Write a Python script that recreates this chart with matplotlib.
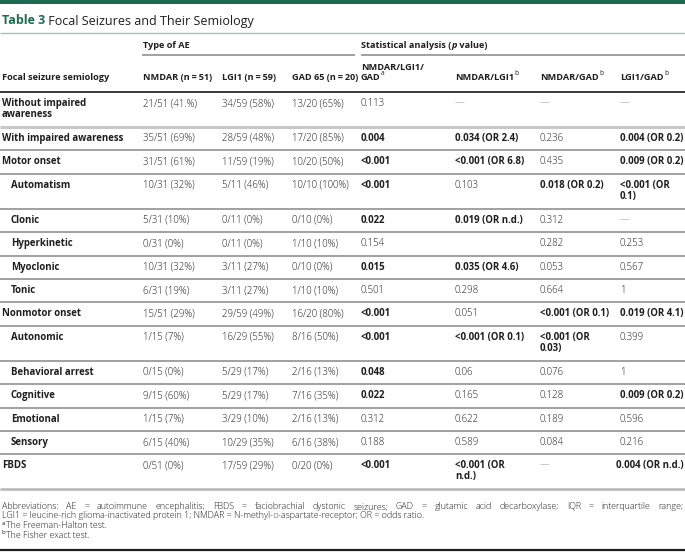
import matplotlib.pyplot as plt

plt.rcParams['font.family'] = ['Open Sans', 'DejaVu Sans']

# table contents
semiology = ["Without impaired\nawareness", "With impaired awareness", "Motor onset",
             "Automatism", "Clonic", "Hyperkinetic", "Myoclonic", "Tonic",
             "Nonmotor onset", "Autonomic", "Behavioral arrest", "Cognitive",
             "Emotional", "Sensory", "FBDS"]
sub_item = [False, False, False, True, True, True, True, True,
            False, True, True, True, True, True, False]
nmdar = ["21/51 (41.%)", "35/51 (69%)", "31/51 (61%)", "10/31 (32%)", "5/31 (10%)",
         "0/31 (0%)", "10/31 (32%)", "6/31 (19%)", "15/51 (29%)", "1/15 (7%)",
         "0/15 (0%)", "9/15 (60%)", "1/15 (7%)", "6/15 (40%)", "0/51 (0%)"]
lgi1 = ["34/59 (58%)", "28/59 (48%)", "11/59 (19%)", "5/11 (46%)", "0/11 (0%)",
        "0/11 (0%)", "3/11 (27%)", "3/11 (27%)", "29/59 (49%)", "16/29 (55%)",
        "5/29 (17%)", "5/29 (17%)", "3/29 (10%)", "10/29 (35%)", "17/59 (29%)"]
gad65 = ["13/20 (65%)", "17/20 (85%)", "10/20 (50%)", "10/10 (100%)", "0/10 (0%)",
         "1/10 (10%)", "0/10 (0%)", "1/10 (10%)", "16/20 (80%)", "8/16 (50%)",
         "2/16 (13%)", "7/16 (35%)", "2/16 (13%)", "6/16 (38%)", "0/20 (0%)"]
p_all = ["0.113", "0.004", "<0.001", "<0.001", "0.022", "0.154", "0.015", "0.501",
         "<0.001", "<0.001", "0.048", "0.022", "0.312", "0.188", "<0.001"]
p_nmdar_lgi1 = ["—", "0.034 (OR 2.4)", "<0.001 (OR 6.8)", "0.103", "0.019 (OR n.d.)", "",
                "0.035 (OR 4.6)", "0.298", "0.051", "<0.001 (OR 0.1)", "0.06", "0.165",
                "0.622", "0.589", "<0.001 (OR\nn.d.)"]
p_nmdar_gad = ["—", "0.236", "0.435", "0.018 (OR 0.2)", "0.312", "0.282", "0.053", "0.664",
               "<0.001 (OR 0.1)", "<0.001 (OR\n0.03)", "0.076", "0.128", "0.189", "0.084", "—"]
p_lgi1_gad = ["—", "0.004 (OR 0.2)", "0.009 (OR 0.2)", "<0.001 (OR\n0.1)", "—", "0.253",
              "0.567", "1", "0.019 (OR 4.1)", "0.399", "1", "0.009 (OR 0.2)", "0.596",
              "0.216", "0.004 (OR n.d.)"]

headers = ["Focal seizure semiology", "NMDAR (n\u2009=\u200951)", "LGI1 (n\u2009=\u200959)",
           "GAD 65 (n\u2009=\u200920)", "NMDAR/LGI1/\nGAD", "NMDAR/LGI1", "NMDAR/GAD", "LGI1/GAD"]
header_notes = ["", "", "", "", "a", "b", "b", "b"]

GREEN = "#1c6b50"
TXT = "#1e1e1e"
FS = 6.9
HFS = 6.6

fig = plt.figure(figsize=(6.85, 5.6), dpi=100)
ax = fig.add_axes([0, 0, 1, 1])
ax.set_xlim(0, 685)
ax.set_ylim(560, 0)
ax.axis("off")


def is_sig(s):
    tok = s.split(" ")[0].replace("<", "")
    try:
        return float(tok) < 0.05
    except ValueError:
        return False


def sup(t, letter, size=4.8):
    ax.annotate(letter, xy=(1, 0.5), xycoords=t, xytext=(0.4, 2.0),
                textcoords="offset points", ha="left", va="baseline",
                fontsize=size, color=TXT)


def hline(y, x0=0, x1=685, color="#9a9a9a", lw=1.3):
    ax.plot([x0, x1], [y, y], color=color, lw=lw, solid_capstyle="butt")


# top band and title
ax.axhspan(0, 4, color=GREEN, lw=0)
t = ax.text(2, 21, "Table 3", fontsize=9, fontweight="bold", color=GREEN,
            va="center", ha="left")
ax.annotate(" Focal Seizures and Their Semiology", xy=(1, 0), xycoords=t,
            va="bottom", ha="left", fontsize=9, color=TXT)
hline(33, color="#9cc7b6", lw=1.0)

# header
ax.text(143, 45, "Type of AE", fontsize=HFS, fontweight="bold", color=TXT, va="center")
t = ax.text(361, 45, "Statistical analysis (", fontsize=HFS, fontweight="bold",
            color=TXT, va="center")
t = ax.annotate("p", xy=(1, 0), xycoords=t, va="bottom", ha="left", fontsize=HFS,
                fontweight="bold", fontstyle="italic", color=TXT)
ax.annotate(" value)", xy=(1, 0), xycoords=t, va="bottom", ha="left", fontsize=HFS,
            fontweight="bold", color=TXT)
hline(55, 142, 355)
hline(55, 361, 685)

col_x = [2, 143, 222, 292, 361, 455, 540, 620]
head_y = 78
for x, lab, note in zip(col_x, headers, header_notes):
    parts = lab.split("\n")
    for k, part in enumerate(parts):
        y = head_y - 11 * (len(parts) - 1 - k)
        t = ax.text(x, y, part, fontsize=HFS, fontweight="bold", color=TXT, va="center")
    if note:
        sup(t, note)
hline(92, color="#3a3a3a", lw=1.4)

# body rows
columns = [nmdar, lgi1, gad65, p_all, p_nmdar_lgi1, p_nmdar_gad, p_lgi1_gad]
top = 92
line_h = 11.6
for i, name in enumerate(semiology):
    cells = [name] + [c[i] for c in columns]
    n_lines = max(s.count("\n") + 1 for s in cells)
    y0 = top + 11.5
    for j, s in enumerate(cells):
        ha = "left"
        if j == 0:
            x = col_x[0] + (9 if sub_item[i] else 0)
            bold = True
        else:
            x = col_x[j]
            bold = j >= 4 and is_sig(s)
        # the last column's long cell runs up to the page edge
        if j == 7 and "\n" not in s and len(s) >= 15:
            x, ha = 684, "right"
        col = "#8a8a8a" if s == "—" else TXT
        for k, part in enumerate(s.split("\n")):
            ax.text(x, y0 + k * 11, part, fontsize=FS, va="center", ha=ha,
                    fontweight="bold" if bold else "light", color=col)
    top = top + 11.8 + line_h * n_lines
    if i == len(semiology) - 1:
        hline(top, color="#b5b5b5", lw=1.8)
    elif i == 0:
        hline(top, color="#c8c8c8", lw=2.2)
    else:
        hline(top, color="#9a9a9a", lw=1.3)

# footnotes
FN = 6.4
fig.canvas.draw()
rend = fig.canvas.get_renderer()


def width(a):
    return a.get_window_extent(rend).width


line1 = ("Abbreviations: AE = autoimmune encephalitis; FBDS = faciobrachial dystonic seizures; "
         "GAD = glutamic acid decarboxylase; IQR = interquartile range;").split(" ")
arts = [ax.text(0, 509, w, fontsize=FN, color=TXT, va="baseline", ha="left",
                fontweight="light") for w in line1]
widths = [width(a) for a in arts]
gap = (683 - 2 - sum(widths)) / (len(arts) - 1)
x = 2
for a, w in zip(arts, widths):
    a.set_x(x)
    x += w + gap

# second line, with a small capital D
pieces = [("LGI1 = leucine-rich glioma-inactivated protein 1; NMDAR = N-methyl-", FN),
          ("D", FN * 0.75),
          ("-aspartate-receptor; OR = odds ratio.", FN)]
x = 2
for s, size in pieces:
    a = ax.text(x, 518.5, s, fontsize=size, color=TXT, va="baseline", ha="left",
                fontweight="light")
    x += width(a)

for y, letter, note in [(528, "a", "The Freeman-Halton test."),
                        (537.5, "b", "The Fisher exact test.")]:
    ax.text(2, y - 3, letter, fontsize=4.5, color=TXT, va="baseline", ha="left")
    ax.text(6.5, y, note, fontsize=FN, color=TXT, va="baseline", ha="left",
            fontweight="light")
hline(550, color="#1e1e1e", lw=1.6)

fig.savefig("out.png", dpi=100)
